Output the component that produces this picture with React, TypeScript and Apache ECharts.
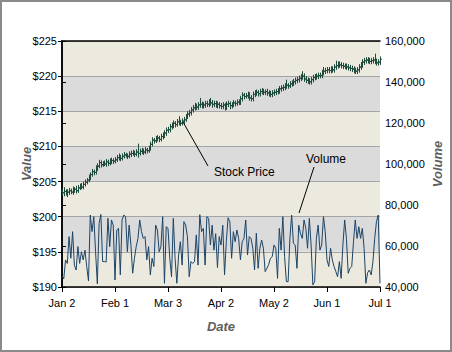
import React, { useEffect, useRef } from "react";
import * as echarts from "echarts";

// x tick labels (every 30 days starting Jan 2)
const xTickLabels = ["Jan 2", "Feb 1", "Mar 3", "Apr 2", "May 2", "Jun 1", "Jul 1"];

// daily stock prices, day 0 = Jan 2
const priceOpen = [
  203.6, 203.4, 203.6, 203.3, 203.5, 203.7, 203.5, 203.8, 203.9, 203.7,
  204.1, 204.4, 204.2, 204.6, 204.9, 205.2, 205.6, 206.0, 206.4, 206.3,
  206.9, 207.2, 207.7, 207.4, 207.6, 207.5, 207.8, 207.6, 207.9, 208.0,
  207.9, 208.1, 208.4, 208.5, 208.3, 208.6, 208.8, 208.7, 208.6, 208.9,
  209.0, 209.1, 208.9, 209.2, 209.0, 209.3, 209.4, 209.2, 209.5, 209.4,
  209.7, 210.3, 210.9, 210.8, 211.1, 211.2, 211.0, 211.4, 211.6, 211.9,
  212.3, 212.4, 212.8, 213.0, 213.3, 213.1, 213.5, 213.4, 213.3, 213.6,
  213.8, 214.2, 214.6, 214.8, 215.2, 215.5, 215.8, 215.6, 215.9, 216.0,
  215.8, 215.9, 216.1, 216.0, 216.3, 216.2, 216.0, 216.1, 215.9, 216.0,
  215.8, 215.7, 215.9, 215.6, 216.0, 216.1, 215.8, 216.0, 216.2, 216.1,
  216.3, 216.2, 216.8, 217.3, 217.1, 217.2, 217.4, 216.9, 216.8, 217.4,
  217.6, 217.7, 217.5, 217.8, 217.9, 217.7, 217.8, 217.6, 217.5, 217.4,
  217.6, 217.7, 217.8, 217.9, 218.2, 218.3, 218.4, 218.6, 218.7, 218.6,
  218.9, 219.0, 219.2, 219.4, 219.5, 219.7, 219.9, 220.0, 219.6, 219.4,
  219.3, 219.2, 219.5, 219.8, 219.9, 220.0, 220.1, 220.1, 220.5, 220.7,
  220.8, 220.9, 220.8, 221.0, 220.9, 221.3, 221.5, 221.7, 221.6, 221.5,
  221.4, 221.4, 221.3, 221.2, 221.1, 221.0, 220.8, 220.7, 220.9, 221.3,
  221.6, 222.0, 222.2, 222.3, 222.2, 222.1, 222.2, 222.3, 222.1, 221.9,
  222.0,
];
const priceHigh = [
  204.0, 204.2, 203.9, 203.9, 204.1, 204.0, 204.3, 204.2, 204.4, 204.5,
  204.7, 204.8, 205.0, 205.3, 205.5, 206.0, 206.3, 206.8, 206.7, 207.3,
  207.6, 208.1, 208.0, 207.9, 208.0, 208.2, 208.1, 208.3, 208.4, 208.3,
  208.5, 208.8, 209.0, 208.8, 209.0, 209.2, 209.1, 209.0, 209.3, 209.4,
  209.5, 209.4, 209.6, 210.4, 209.7, 209.8, 209.7, 209.9, 209.8, 210.1,
  210.7, 211.3, 211.2, 211.5, 211.6, 211.5, 211.8, 212.0, 212.3, 212.7,
  212.8, 213.2, 213.4, 213.7, 213.6, 213.9, 214.3, 213.8, 214.0, 214.2,
  214.6, 215.0, 215.2, 215.6, 215.9, 216.2, 216.1, 216.3, 216.9, 216.4,
  216.3, 216.5, 216.5, 216.7, 216.9, 216.6, 216.5, 216.5, 216.4, 216.3,
  216.2, 216.3, 216.2, 216.4, 216.5, 216.4, 216.3, 216.6, 216.5, 216.7,
  216.7, 217.2, 217.7, 217.6, 217.6, 217.8, 217.7, 217.3, 217.8, 218.0,
  218.1, 218.0, 218.2, 218.3, 218.2, 218.1, 218.2, 218.0, 217.9, 218.0,
  218.1, 218.2, 218.3, 218.6, 218.7, 218.8, 219.0, 219.5, 219.0, 219.3,
  219.4, 219.6, 219.8, 219.9, 220.1, 220.3, 220.7, 220.4, 220.0, 219.8,
  219.7, 219.9, 220.2, 220.3, 220.4, 220.5, 220.5, 220.9, 221.3, 221.2,
  221.3, 221.3, 221.4, 221.4, 221.7, 222.2, 222.1, 222.1, 222.0, 221.9,
  221.8, 221.8, 221.7, 221.6, 221.5, 221.4, 221.2, 221.3, 221.7, 222.0,
  222.4, 222.6, 222.7, 222.7, 222.6, 222.6, 222.7, 223.2, 222.5, 222.4,
  222.8,
];
const priceLow = [
  203.0, 202.9, 203.0, 202.8, 203.1, 203.2, 203.1, 203.4, 203.3, 203.4,
  203.8, 203.9, 203.9, 204.3, 204.6, 204.9, 205.2, 205.7, 205.9, 206.0,
  206.5, 206.9, 207.0, 207.1, 207.2, 207.1, 207.2, 207.3, 207.5, 207.5,
  207.6, 207.8, 208.0, 207.9, 208.0, 208.3, 208.4, 208.2, 208.3, 208.5,
  208.7, 208.5, 208.6, 208.4, 208.7, 208.9, 208.8, 208.9, 209.0, 209.1,
  209.4, 210.0, 210.4, 210.5, 210.7, 210.6, 210.7, 211.0, 211.2, 211.5,
  211.9, 212.0, 212.4, 212.6, 212.7, 212.8, 213.0, 212.9, 213.0, 213.2,
  213.5, 213.9, 214.2, 214.4, 214.8, 215.1, 215.2, 215.2, 215.5, 215.4,
  215.4, 215.5, 215.6, 215.6, 215.8, 215.5, 215.6, 215.5, 215.4, 215.4,
  215.3, 215.3, 215.1, 215.2, 215.6, 215.3, 215.4, 215.6, 215.7, 215.8,
  215.9, 215.9, 216.4, 216.7, 216.8, 216.8, 216.5, 216.4, 216.4, 217.0,
  217.2, 217.1, 217.1, 217.4, 217.3, 217.3, 217.2, 217.1, 217.0, 217.0,
  217.2, 217.3, 217.4, 217.5, 217.8, 217.9, 218.0, 218.2, 218.2, 218.3,
  218.5, 218.6, 218.8, 219.0, 219.1, 219.3, 219.5, 219.2, 219.0, 218.9,
  218.8, 218.8, 219.1, 219.4, 219.5, 219.6, 219.7, 219.7, 220.1, 220.3,
  220.4, 220.4, 220.4, 220.5, 220.5, 220.9, 221.1, 221.2, 221.1, 221.0,
  221.0, 220.9, 220.8, 220.7, 220.6, 220.4, 220.3, 220.3, 220.5, 220.9,
  221.2, 221.6, 221.8, 221.8, 221.7, 221.7, 221.8, 221.7, 221.5, 221.5,
  221.6,
];
const priceClose = [
  203.4, 203.6, 203.3, 203.5, 203.7, 203.5, 203.8, 203.9, 203.7, 204.1,
  204.4, 204.2, 204.6, 204.9, 205.2, 205.6, 206.0, 206.4, 206.3, 206.9,
  207.2, 207.7, 207.4, 207.6, 207.5, 207.8, 207.6, 207.9, 208.0, 207.9,
  208.1, 208.4, 208.5, 208.3, 208.6, 208.8, 208.7, 208.6, 208.9, 209.0,
  209.1, 208.9, 209.2, 209.0, 209.3, 209.4, 209.2, 209.5, 209.4, 209.7,
  210.3, 210.9, 210.8, 211.1, 211.2, 211.0, 211.4, 211.6, 211.9, 212.3,
  212.4, 212.8, 213.0, 213.3, 213.1, 213.5, 213.4, 213.3, 213.6, 213.8,
  214.2, 214.6, 214.8, 215.2, 215.5, 215.8, 215.6, 215.9, 216.0, 215.8,
  215.9, 216.1, 216.0, 216.3, 216.2, 216.0, 216.1, 215.9, 216.0, 215.8,
  215.7, 215.9, 215.6, 216.0, 216.1, 215.8, 216.0, 216.2, 216.1, 216.3,
  216.2, 216.8, 217.3, 217.1, 217.2, 217.4, 216.9, 216.8, 217.4, 217.6,
  217.7, 217.5, 217.8, 217.9, 217.7, 217.8, 217.6, 217.5, 217.4, 217.6,
  217.7, 217.8, 217.9, 218.2, 218.3, 218.4, 218.6, 218.7, 218.6, 218.9,
  219.0, 219.2, 219.4, 219.5, 219.7, 219.9, 220.0, 219.6, 219.4, 219.3,
  219.2, 219.5, 219.8, 219.9, 220.0, 220.1, 220.1, 220.5, 220.7, 220.8,
  220.9, 220.8, 221.0, 220.9, 221.3, 221.5, 221.7, 221.6, 221.5, 221.4,
  221.4, 221.3, 221.2, 221.1, 221.0, 220.8, 220.7, 220.9, 221.3, 221.6,
  222.0, 222.2, 222.3, 222.2, 222.1, 222.2, 222.3, 222.1, 221.9, 222.0,
  222.4,
];

// daily volume, in thousands
const volumeK = [
  45.5, 44.0, 53.2, 51.5, 64.6, 54.0, 67.0, 50.7, 48.3, 59.7,
  51.5, 57.2, 53.2, 58.0, 50.0, 42.9, 75.1, 67.0, 74.3, 57.2,
  41.5, 71.0, 75.4, 52.4, 52.4, 52.2, 73.5, 59.7, 72.7, 70.2,
  43.4, 67.8, 68.6, 45.9, 72.7, 75.1, 74.3, 57.2, 70.2, 60.5,
  46.7, 54.0, 59.7, 63.7, 72.7, 67.0, 63.7, 64.6, 53.2, 59.7,
  45.9, 54.0, 50.0, 70.2, 67.8, 57.2, 59.7, 74.3, 41.8, 69.4,
  68.6, 54.0, 45.0, 73.5, 54.0, 41.8, 55.6, 62.1, 50.7, 71.9,
  70.2, 64.6, 45.0, 52.4, 51.5, 52.4, 65.4, 50.7, 75.3, 67.0,
  68.6, 50.7, 74.3, 73.5, 60.5, 70.2, 58.0, 66.0, 49.5,
  64.6, 60.5, 70.2, 45.9, 62.1, 73.8, 71.9, 54.0, 67.0, 62.1,
  67.8, 63.7, 53.2, 62.1, 63.7, 72.7, 55.6, 64.6, 63.7,
  58.9, 48.3, 66.2, 49.1, 58.9, 62.9, 58.9, 47.5, 49.1, 51.0,
  54.0, 54.8, 60.5, 58.9, 44.2, 68.6, 58.0, 74.3, 54.8, 42.6,
  42.6, 63.7, 75.1, 61.3, 60.5, 49.1, 70.2, 66.0, 63.7, 72.7,
  68.6, 58.9, 73.5, 60.5, 41.0, 42.6, 63.7, 70.2, 58.0, 60.5,
  74.3, 67.0, 53.2, 50.0, 58.9, 53.2, 50.0, 47.5, 45.0, 52.4,
  44.2, 60.5, 72.7, 63.7, 46.7, 49.1, 50.0, 62.1, 72.7, 63.7,
  69.4, 63.7, 68.6, 58.9, 41.8, 47.0, 48.3, 45.9, 52.4, 63.7,
  71.9, 75.1, 41.8,
];

const FONT = "'Liberation Sans', Arial, sans-serif";
const PRICE_COLOR = "#1E4B3B";
const VOLUME_COLOR = "#1C4466";

export default function App() {
  const ref = useRef<HTMLDivElement>(null);

  useEffect(() => {
    document.body.style.margin = "0";
    if (!ref.current) return;
    const chart = echarts.init(ref.current, undefined, { renderer: "svg" });

    const ohlc = priceClose.map((c, i) => [i, priceOpen[i], priceHigh[i], priceLow[i], c]);
    const vol = volumeK.map((v, i) => [i, v * 1000]);

    const axisTitle = {
      color: "#606060",
      fontFamily: FONT,
      fontSize: 13,
      fontWeight: "bold",
      fontStyle: "italic",
    };

    chart.setOption({
      animation: false,
      backgroundColor: "#ffffff",
      grid: { left: 62, right: 68, top: 41, bottom: 65 },
      xAxis: [
        {
          type: "value",
          min: 0,
          max: 180,
          interval: 30,
          name: "Date",
          nameLocation: "middle",
          nameGap: 33,
          nameMoveOverlap: false,
          nameTextStyle: axisTitle,
          axisLine: { show: true, lineStyle: { color: "#000", width: 1.5 } },
          axisTick: { show: true, length: 5, lineStyle: { color: "#000" } },
          axisLabel: {
            margin: 10,
            color: "#000",
            fontFamily: FONT,
            fontSize: 11,
            formatter: (v: number) => xTickLabels[Math.round(v / 30)] ?? "",
          },
          splitLine: { show: false },
        },
        {
          type: "value",
          position: "top",
          min: 0,
          max: 180,
          axisLine: { show: true, lineStyle: { color: "#000", width: 1.5 } },
          axisTick: { show: false },
          axisLabel: { show: false },
          splitLine: { show: false },
        },
      ],
      yAxis: [
        {
          type: "value",
          min: 190,
          max: 225,
          interval: 5,
          name: "Value",
          nameLocation: "middle",
          nameGap: 29,
          nameMoveOverlap: false,
          nameTextStyle: axisTitle,
          axisLine: { show: true, lineStyle: { color: "#000", width: 1.5 } },
          axisTick: { show: true, length: 4, lineStyle: { color: "#000" } },
          axisLabel: {
            margin: 5,
            color: "#000",
            fontFamily: FONT,
            fontSize: 11,
            formatter: (v: number) => "$" + v,
          },
          splitLine: { show: true, lineStyle: { color: "#A5A5A5", width: 1 } },
          splitArea: { show: true, areaStyle: { color: ["#ECEADF", "#DBDBDB"] } },
        },
        {
          type: "value",
          min: 40000,
          max: 160000,
          interval: 20000,
          name: "Volume",
          nameLocation: "middle",
          nameGap: 51,
          nameMoveOverlap: false,
          nameTextStyle: axisTitle,
          axisLine: { show: true, lineStyle: { color: "#000", width: 1.5 } },
          axisTick: { show: true, length: 4, lineStyle: { color: "#000" } },
          axisLabel: {
            margin: 5,
            color: "#000",
            fontFamily: FONT,
            fontSize: 11,
            formatter: (v: number) => v.toLocaleString("en-US"),
          },
          splitLine: { show: false },
        },
      ],
      series: [
        {
          type: "line",
          name: "Volume",
          xAxisIndex: 0,
          yAxisIndex: 1,
          data: vol,
          symbol: "none",
          lineStyle: { color: VOLUME_COLOR, width: 1 },
          z: 3,
        },
        {
          type: "custom",
          name: "Stock Price",
          xAxisIndex: 0,
          yAxisIndex: 0,
          data: ohlc,
          encode: { x: 0, y: [1, 2, 3, 4] },
          z: 4,
          renderItem: (_params: any, api: any) => {
            const x = api.value(0);
            const po = api.coord([x, api.value(1)]);
            const ph = api.coord([x, api.value(2)]);
            const pl = api.coord([x, api.value(3)]);
            const pc = api.coord([x, api.value(4)]);
            const cx = Math.round(ph[0]) + 0.5;
            const tick = 1.5;
            const style = { stroke: PRICE_COLOR, lineWidth: 1 };
            return {
              type: "group",
              children: [
                { type: "line", shape: { x1: cx, y1: ph[1], x2: cx, y2: pl[1] }, style },
                { type: "line", shape: { x1: cx - tick, y1: po[1], x2: cx, y2: po[1] }, style },
                { type: "line", shape: { x1: cx, y1: pc[1], x2: cx + tick, y2: pc[1] }, style },
              ],
            };
          },
        },
      ],
      graphic: [
        {
          type: "rect",
          shape: { x: 1, y: 1, width: 450, height: 350 },
          style: { fill: "none", stroke: "#8A8A8A", lineWidth: 2 },
          z: 100,
        },
        {
          type: "line",
          shape: { x1: 183, y1: 122, x2: 208, y2: 166 },
          style: { stroke: "#000", lineWidth: 1 },
          z: 100,
        },
        {
          type: "text",
          x: 214,
          y: 172,
          style: {
            text: "Stock Price",
            fill: "#000",
            font: "12px " + FONT,
            textVerticalAlign: "middle",
            textAlign: "left",
          },
          z: 100,
        },
        {
          type: "line",
          shape: { x1: 314, y1: 167, x2: 299, y2: 213 },
          style: { stroke: "#000", lineWidth: 1 },
          z: 100,
        },
        {
          type: "text",
          x: 306,
          y: 159,
          style: {
            text: "Volume",
            fill: "#000",
            font: "12px " + FONT,
            textVerticalAlign: "middle",
            textAlign: "left",
          },
          z: 100,
        },
      ],
    });

    return () => chart.dispose();
  }, []);

  return <div ref={ref} style={{ width: 452, height: 352 }} />;
}
